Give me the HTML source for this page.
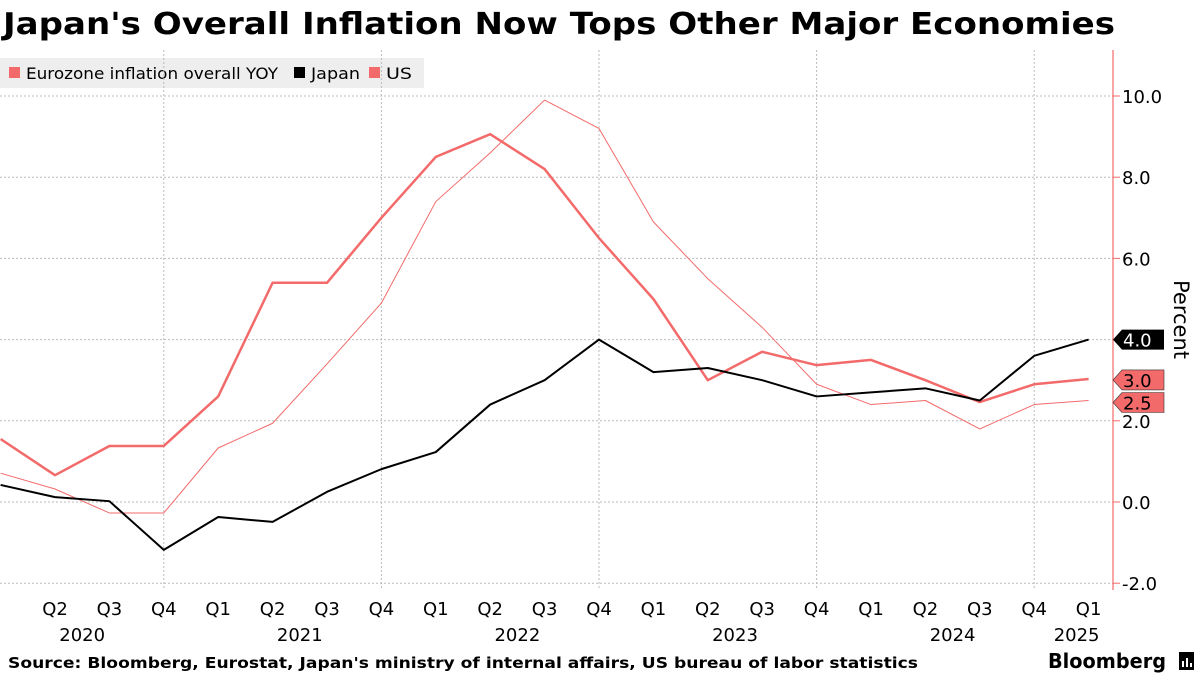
<!DOCTYPE html>
<html><head><meta charset="utf-8"><style>
body{margin:0;background:#fff;font-family:"DejaVu Sans","Liberation Sans",sans-serif;}
svg text{font-family:"DejaVu Sans","Liberation Sans",sans-serif;}
</style></head><body>
<svg id="chart" width="1200" height="675" xmlns="http://www.w3.org/2000/svg">
<text x="3" y="34" font-size="30" font-weight="bold" fill="#000" textLength="1112" lengthAdjust="spacingAndGlyphs">Japan's Overall Inflation Now Tops Other Major Economies</text>
<g>
<rect x="0" y="58" width="424" height="30" fill="#eeeeee"/>
<g><rect x="9" y="67" width="11" height="11" fill="#f36a6a"/><text x="26" y="79" font-size="16" textLength="252" lengthAdjust="spacingAndGlyphs">Eurozone inflation overall YOY</text></g>
<g><rect x="294" y="67" width="11" height="11" fill="#000"/><text x="311" y="79" font-size="16" textLength="49" lengthAdjust="spacingAndGlyphs">Japan</text></g>
<g><rect x="369" y="67" width="11" height="11" fill="#f36a6a"/><text x="386" y="79" font-size="16" textLength="26" lengthAdjust="spacingAndGlyphs">US</text></g>
</g>
<g id="grid"></g><g id="axes"></g><g id="series"></g><g id="labels"></g>
<text x="8" y="668" font-size="15" font-weight="bold" textLength="910" lengthAdjust="spacingAndGlyphs">Source: Bloomberg, Eurostat, Japan's ministry of internal affairs, US bureau of labor statistics</text>
<text x="1048" y="668" font-size="20" font-weight="bold" textLength="118" lengthAdjust="spacingAndGlyphs">Bloomberg</text>
<g>
<rect x="1179" y="652" width="15" height="18" fill="#000"/>
<rect x="1182" y="661" width="2" height="6" fill="#fff"/><rect x="1186" y="658" width="2" height="9" fill="#fff"/><rect x="1190" y="663" width="2" height="4" fill="#fff"/>
</g>
<text transform="translate(1174,280) rotate(90)" font-size="21">Percent</text>
</svg>
<script>
const quarters=["Q1","Q2","Q3","Q4","Q1","Q2","Q3","Q4","Q1","Q2","Q3","Q4","Q1","Q2","Q3","Q4","Q1","Q2","Q3","Q4","Q1"];
const years=["2020","2021","2022","2023","2024","2025"];
const usValues=[1.55,0.66,1.38,1.38,2.6,5.4,5.4,7.0,8.5,9.06,8.2,6.5,5.0,3.0,3.7,3.37,3.5,3.0,2.46,2.9,3.03];
const euroValues=[0.71,0.32,-0.27,-0.27,1.33,1.94,3.4,4.9,7.4,8.6,9.9,9.2,6.9,5.5,4.3,2.9,2.4,2.5,1.8,2.4,2.5];
const japanValues=[0.42,0.12,0.02,-1.18,-0.37,-0.49,0.25,0.81,1.23,2.4,3.0,4.0,3.2,3.3,3.0,2.6,2.7,2.8,2.5,3.6,4.0];
const yTicks=[-2,0,2,4,6,8,10];
const NS="http://www.w3.org/2000/svg";
const xS=i=>0.6+i*54.4;
const yS=v=>502-v*40.6;
function mk(tag,attrs,parent){const e=document.createElementNS(NS,tag);for(const k in attrs)e.setAttribute(k,attrs[k]);parent.appendChild(e);return e;}
const grid=document.getElementById('grid'),axes=document.getElementById('axes'),series=document.getElementById('series'),labels=document.getElementById('labels');
yTicks.forEach(t=>{
 const l=mk('line',{x1:0,x2:1113,y1:yS(t),y2:yS(t),stroke:'#bbb','stroke-dasharray':'2,2','stroke-width':1},grid);
 
 
 const tk=mk('line',{x1:1113,x2:1120,y1:yS(t),y2:yS(t),stroke:'#f36a6a'},axes);
 
 
 const tx=mk('text',{x:1122,y:yS(t)+7,'font-size':18},axes);
 tx.textContent=t.toFixed(1);
 
 
});
quarters.forEach((q,i)=>{
 if(q==="Q4"){const l=mk('line',{x1:xS(i),x2:xS(i),y1:50,y2:590,stroke:'#bbb','stroke-dasharray':'2,2'},grid);
 
 }
 if(i===0)return;
 const t=mk('text',{x:xS(i),y:615,'font-size':18,'text-anchor':'middle'},axes);
 t.textContent=q;
 
 
});
years.forEach((y,j)=>{
 const idx=j===0?1.5:(j===5?20:4*j+1.5);
 const t=mk('text',{x:j===5?xS(20)-12:xS(idx),y:641,'font-size':18,'text-anchor':'middle'},axes);
 t.textContent=y;
 
 
});
const ax=mk('line',{x1:1113,x2:1113,y1:50,y2:590,stroke:'#f36a6a','stroke-width':1.2},axes);


function line(vals,color,w,name){
 const p=mk('polyline',{points:vals.map((v,i)=>xS(i)+','+yS(v)).join(' '),fill:'none',stroke:color,'stroke-width':w,'stroke-linejoin':'round'},series);
 
 
}
line(euroValues,'#f36a6a',1,'eurozone-line');
line(usValues,'#f36a6a',2.5,'us-line');
line(japanValues,'#000',2,'japan-line');
function tag(v,yc,bg,fg,name){
 const g=mk('g',{},labels);
 
 
 mk('path',{d:`M1113,${yc} L1122,${yc-10} L1164,${yc-10} L1164,${yc+10} L1122,${yc+10} Z`,fill:bg,stroke:bg==='#000'?'#000':'#333','stroke-width':bg==='#000'?0:0.6},g);
 const t=mk('text',{x:1123,y:yc+7,'font-size':18,fill:fg},g);
 t.textContent=v.toFixed(1);
}
tag(japanValues[20],yS(japanValues[20]),'#000','#fff','japan-last-value');
tag(usValues[20],yS(usValues[20])+1,'#f36a6a','#000','us-last-value');
tag(euroValues[20],yS(euroValues[20])+2,'#f36a6a','#000','eurozone-last-value');
</script>
</body></html>
